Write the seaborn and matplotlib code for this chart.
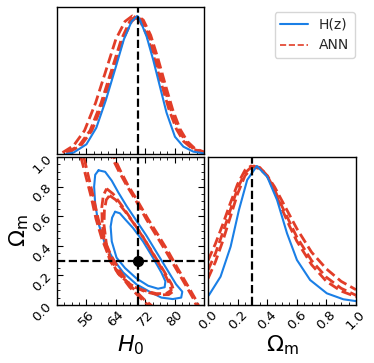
import matplotlib
matplotlib.use("Agg")
import matplotlib.pyplot as plt
import seaborn as sns
from matplotlib.lines import Line2D
from matplotlib.ticker import MultipleLocator

sns.set_style("ticks")

BLUE = "#1a7fe6"
RED = "#e23d28"

# fiducial values
H0_TRUE = 70
OM_TRUE = 0.3

# ---------------------------
# 1D posterior of H0 (top-left)
# ---------------------------
h0_blue_x = [50.5, 52.5, 56.0, 58.7, 61.3, 64.0, 66.2, 68.3, 69.9, 70.6, 72.4, 74.2, 76.0, 77.8, 80.1, 82.4, 85.1, 87.8]
h0_blue_y = [0.0, 0.01, 0.07, 0.19, 0.39, 0.63, 0.83, 0.96, 1.0, 0.97, 0.85, 0.68, 0.49, 0.30, 0.125, 0.053, 0.017, 0.005]

h0_red_x = [
    [50.5, 54.0, 57.0, 60.0, 63.0, 65.5, 67.8, 69.5, 71.0, 73.0, 75.0, 77.0, 79.0, 81.0, 83.0, 85.0, 88.0],
    [49.5, 52.5, 55.5, 58.5, 61.5, 64.0, 66.5, 68.5, 70.5, 72.5, 74.5, 76.5, 78.5, 80.5, 82.5, 85.0, 88.0],
    [51.0, 54.5, 57.5, 60.5, 63.5, 66.0, 68.3, 70.0, 71.5, 73.5, 75.5, 77.5, 79.5, 81.5, 83.5, 85.5, 88.0],
]
h0_red_y = [
    [0.01, 0.06, 0.17, 0.37, 0.62, 0.83, 0.96, 1.0, 0.97, 0.86, 0.69, 0.50, 0.32, 0.18, 0.09, 0.04, 0.01],
    [0.01, 0.06, 0.17, 0.37, 0.62, 0.83, 0.96, 1.0, 0.97, 0.86, 0.69, 0.50, 0.32, 0.18, 0.09, 0.035, 0.01],
    [0.01, 0.06, 0.17, 0.37, 0.62, 0.83, 0.96, 1.0, 0.97, 0.86, 0.69, 0.50, 0.32, 0.18, 0.09, 0.04, 0.015],
]

# ---------------------------
# 1D posterior of Omega_m (bottom-right)
# ---------------------------
om_blue_x = [0.0, 0.007, 0.085, 0.153, 0.209, 0.265, 0.33, 0.40, 0.467, 0.534, 0.601, 0.69, 0.803, 0.915, 1.0]
om_blue_y = [0.065, 0.072, 0.204, 0.42, 0.683, 0.90, 1.0, 0.923, 0.755, 0.516, 0.324, 0.18, 0.084, 0.041, 0.028]

om_red_x = [
    [0.0, 0.05, 0.1, 0.15, 0.2, 0.25, 0.3, 0.35, 0.4, 0.45, 0.5, 0.55, 0.6, 0.7, 0.8, 0.9, 1.0],
    [0.0, 0.05, 0.1, 0.15, 0.2, 0.25, 0.29, 0.35, 0.4, 0.45, 0.5, 0.55, 0.6, 0.7, 0.8, 0.9, 1.0],
    [0.0, 0.05, 0.1, 0.15, 0.2, 0.25, 0.31, 0.36, 0.4, 0.45, 0.5, 0.55, 0.6, 0.7, 0.8, 0.9, 1.0],
]
om_red_y = [
    [0.25, 0.37, 0.52, 0.68, 0.84, 0.95, 1.0, 0.99, 0.93, 0.83, 0.71, 0.60, 0.49, 0.32, 0.20, 0.12, 0.07],
    [0.32, 0.44, 0.58, 0.73, 0.87, 0.97, 1.0, 0.98, 0.93, 0.85, 0.75, 0.65, 0.55, 0.38, 0.26, 0.17, 0.11],
    [0.19, 0.31, 0.46, 0.63, 0.80, 0.93, 1.0, 0.98, 0.93, 0.82, 0.69, 0.57, 0.46, 0.29, 0.17, 0.10, 0.06],
]

# ---------------------------
# 2D contours (bottom-left), closed paths in (H0, Omega_m)
# ---------------------------
blue_1s_h0 = [63.8, 65.1, 66.5, 68.7, 71.4, 74.1, 76.4, 77.5, 77.3, 75.5, 72.8, 69.6, 66.5, 64.2, 62.9, 62.6, 63.0, 63.8]
blue_1s_om = [0.63, 0.62, 0.58, 0.52, 0.43, 0.32, 0.22, 0.16, 0.12, 0.11, 0.13, 0.18, 0.25, 0.32, 0.43, 0.53, 0.59, 0.63]

blue_2s_h0 = [59.3, 61.1, 62.9, 64.7, 66.9, 69.6, 72.3, 75.0, 77.7, 80.4, 82.1, 81.8, 79.5, 76.4, 73.2, 69.6, 66.0, 63.3, 61.1, 59.3, 58.4, 58.1, 58.4, 59.3]
blue_2s_om = [0.91, 0.90, 0.84, 0.76, 0.67, 0.57, 0.47, 0.36, 0.25, 0.14, 0.09, 0.05, 0.04, 0.05, 0.09, 0.14, 0.22, 0.31, 0.41, 0.55, 0.68, 0.80, 0.88, 0.91]

red_1s_h0 = [
    [61.5, 63.3, 66.0, 68.7, 71.4, 74.1, 76.8, 78.6, 79.1, 77.7, 75.0, 71.4, 67.8, 64.7, 62.4, 61.1, 60.3, 60.2, 60.6, 61.5],
    [62.3, 64.0, 66.6, 69.2, 71.9, 74.6, 77.2, 79.2, 79.8, 78.4, 75.6, 72.0, 68.3, 65.1, 62.8, 61.5, 60.8, 60.9, 61.4, 62.3],
]
red_1s_om = [
    [0.786, 0.75, 0.66, 0.56, 0.46, 0.347, 0.234, 0.145, 0.10, 0.077, 0.077, 0.10, 0.14, 0.21, 0.30, 0.41, 0.55, 0.66, 0.74, 0.786],
    [0.74, 0.71, 0.63, 0.54, 0.44, 0.33, 0.225, 0.14, 0.095, 0.07, 0.068, 0.09, 0.13, 0.20, 0.29, 0.40, 0.54, 0.64, 0.71, 0.74],
]

red_2s_h0 = [
    [53.4, 54.5, 55.9, 57.3, 58.6, 60.2, 62.0, 64.7, 67.8, 71.0, 73.7, 76.8, 86.7, 85.4, 83.1, 80.4, 77.7, 75.0, 72.3, 69.6, 66.9, 64.7, 62.9, 61.5, 53.4],
    [54.3, 55.3, 56.6, 57.9, 59.2, 60.8, 62.7, 65.3, 68.4, 71.6, 74.5, 77.5, 87.5, 85.9, 83.6, 80.9, 78.3, 75.6, 72.8, 70.0, 67.3, 65.2, 63.5, 62.2, 54.3],
]
red_2s_om = [
    [1.09, 1.0, 0.865, 0.73, 0.583, 0.448, 0.335, 0.223, 0.12, 0.04, -0.02, -0.06, -0.06, 0.03, 0.13, 0.245, 0.36, 0.47, 0.58, 0.70, 0.81, 0.91, 1.0, 1.09, 1.09],
    [1.09, 1.0, 0.865, 0.73, 0.583, 0.448, 0.335, 0.223, 0.12, 0.04, -0.02, -0.06, -0.06, 0.03, 0.13, 0.245, 0.36, 0.47, 0.58, 0.70, 0.81, 0.91, 1.0, 1.09, 1.09],
]

h0_ticks = [56, 64, 72, 80]
om_ticks = [0.0, 0.2, 0.4, 0.6, 0.8, 1.0]

fig = plt.figure(figsize=(3.74, 3.63), dpi=100)
ax_h0 = fig.add_axes([0.1524, 0.5758, 0.393, 0.405])
ax_2d = fig.add_axes([0.1524, 0.1598, 0.393, 0.4077])
ax_om = fig.add_axes([0.5561, 0.1598, 0.3957, 0.4077])


def line(ax, x, y, color, dashed=False, lw=1.5):
    sns.lineplot(x=x, y=y, ax=ax, color=color, sort=False, estimator=None,
                 linewidth=lw, linestyle="--" if dashed else "-")


# top-left: H0
for xs, ys in zip(h0_red_x, h0_red_y):
    line(ax_h0, xs, ys, RED, dashed=True, lw=2.0)
line(ax_h0, h0_blue_x, h0_blue_y, BLUE)
ax_h0.axvline(H0_TRUE, color="k", ls="--", lw=1.6)
ax_h0.set_xlim(48, 88)
ax_h0.set_ylim(0, 1.065)

# bottom-left: 2D
line(ax_2d, blue_2s_h0, blue_2s_om, BLUE)
line(ax_2d, blue_1s_h0, blue_1s_om, BLUE)
for xs, ys in zip(red_2s_h0, red_2s_om):
    line(ax_2d, xs, ys, RED, dashed=True, lw=2.0)
for xs, ys in zip(red_1s_h0, red_1s_om):
    line(ax_2d, xs, ys, RED, dashed=True, lw=2.0)
ax_2d.axvline(H0_TRUE, color="k", ls="--", lw=1.6)
ax_2d.axhline(OM_TRUE, color="k", ls="--", lw=1.6)
ax_2d.plot([H0_TRUE], [OM_TRUE], "o", color="k", ms=7)
ax_2d.set_xlim(48, 88)
ax_2d.set_ylim(0, 1)

# bottom-right: Omega_m
for xs, ys in zip(om_red_x, om_red_y):
    line(ax_om, xs, ys, RED, dashed=True, lw=2.0)
line(ax_om, om_blue_x, om_blue_y, BLUE)
ax_om.axvline(OM_TRUE, color="k", ls="--", lw=1.6)
ax_om.set_xlim(0, 1)
ax_om.set_ylim(0, 1.065)

# ticks
for ax in (ax_h0, ax_2d, ax_om):
    ax.tick_params(which="both", direction="in", labelsize=9.5, color="k", labelcolor="k")
    ax.tick_params(which="major", length=4, pad=2)
    ax.tick_params(which="minor", length=2)
    for sp in ax.spines.values():
        sp.set_linewidth(1.0)
        sp.set_color("k")

ax_h0.set_xticks(h0_ticks)
ax_h0.xaxis.set_minor_locator(MultipleLocator(2))
ax_h0.set_xticklabels([])
ax_h0.set_yticks([])

ax_2d.set_xticks(h0_ticks)
ax_2d.xaxis.set_minor_locator(MultipleLocator(2))
ax_2d.set_yticks(om_ticks)
ax_2d.yaxis.set_minor_locator(MultipleLocator(0.05))
ax_2d.tick_params(which="both", top=True, right=True)
plt.setp(ax_2d.get_xticklabels(), rotation=45)
plt.setp(ax_2d.get_yticklabels(), rotation=45)
ax_2d.set_xlabel(r"$H_0$", fontsize=16, color="k")
ax_2d.set_ylabel(r"$\Omega_{\mathrm{m}}$", fontsize=16, color="k")
ax_2d.xaxis.set_label_coords(0.5, -0.19)
ax_2d.yaxis.set_label_coords(-0.18, 0.5)

ax_om.set_xticks(om_ticks)
ax_om.xaxis.set_minor_locator(MultipleLocator(0.05))
ax_om.set_yticks([])
plt.setp(ax_om.get_xticklabels(), rotation=45)
ax_om.set_xlabel(r"$\Omega_{\mathrm{m}}$", fontsize=16, color="k")
ax_om.xaxis.set_label_coords(0.5, -0.19)

handles = [
    Line2D([], [], color=BLUE, lw=1.5, label="H(z)"),
    Line2D([], [], color=RED, lw=1.2, ls="--", label="ANN"),
]
fig.legend(handles=handles, loc="upper right", bbox_to_anchor=(0.949, 0.967),
           borderaxespad=0, fontsize=10, frameon=True)

fig.savefig("out.png", dpi=100)
